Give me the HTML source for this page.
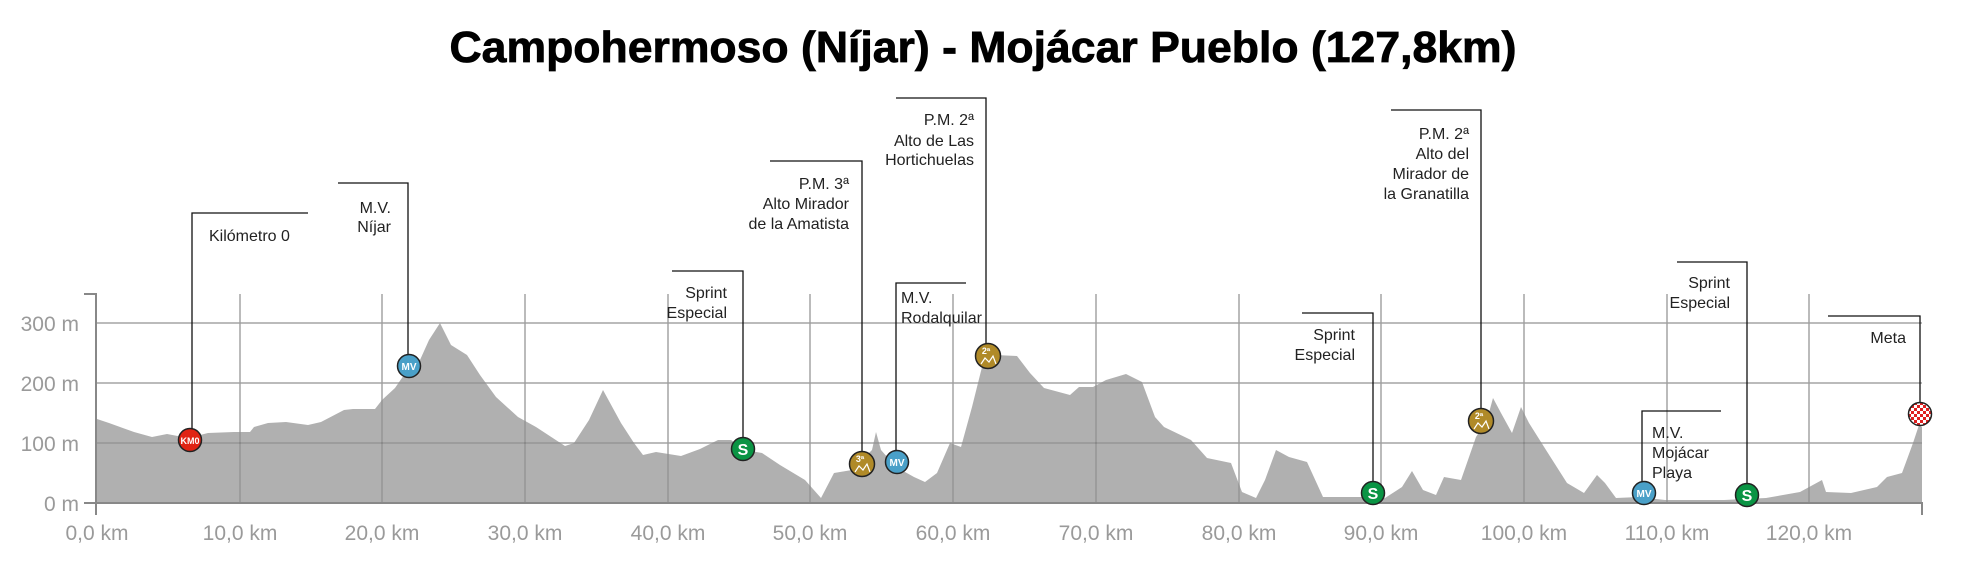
<!DOCTYPE html>
<html><head><meta charset="utf-8"><style>
html,body{margin:0;padding:0;background:#fff;}
svg{display:block;}
.a{font-family:"Liberation Sans",sans-serif;font-size:16px;fill:#222;}
.ax{font-family:"Liberation Sans",sans-serif;font-size:21px;fill:#9a9a9a;}
.mk{font-family:"Liberation Sans",sans-serif;font-weight:bold;fill:#fff;}
</style></head><body>
<svg width="1965" height="566" viewBox="0 0 1965 566" xmlns="http://www.w3.org/2000/svg">
<text x="983" y="62" text-anchor="middle" font-family="Liberation Sans, sans-serif" font-weight="bold" font-size="44" textLength="1067" lengthAdjust="spacingAndGlyphs" fill="#000" stroke="#000" stroke-width="0.8">Campohermoso (Níjar) - Mojácar Pueblo (127,8km)</text>

<g stroke="#d2d2d2" stroke-width="2">
<line x1="97" y1="323" x2="1922" y2="323"/>
<line x1="97" y1="383" x2="1922" y2="383"/>
<line x1="97" y1="443" x2="1922" y2="443"/>
<line x1="240" y1="294" x2="240" y2="503"/><line x1="382" y1="294" x2="382" y2="503"/><line x1="525" y1="294" x2="525" y2="503"/>
<line x1="668" y1="294" x2="668" y2="503"/><line x1="810" y1="294" x2="810" y2="503"/><line x1="953" y1="294" x2="953" y2="503"/>
<line x1="1096" y1="294" x2="1096" y2="503"/><line x1="1239" y1="294" x2="1239" y2="503"/><line x1="1381" y1="294" x2="1381" y2="503"/>
<line x1="1524" y1="294" x2="1524" y2="503"/><line x1="1667" y1="294" x2="1667" y2="503"/><line x1="1809" y1="294" x2="1809" y2="503"/>
</g>

<path fill="#b0b0b0" d="M97,503 L97,419 109,423 134,432 152,437 167,434 183,437 196,436 208,433 234,432 250,432 254,427 268,423 286,422 308,425 321,422 344,410 353,409 375,409 382,400 395,388 404,375 420,360 429,340 440,323 451,345 467,355 480,375 496,397 518,417 536,427 565,446 574,443 589,420 603,390 621,423 634,443 643,455 656,452 681,456 700,449 718,440 731,440 745,450 762,453 780,465 805,480 821,498 834,473 852,470 872,450 876,432 881,450 896,467 914,477 925,482 937,473 950,443 961,447 972,407 983,363 995,355 1017,356 1030,373 1044,388 1070,395 1079,387 1093,387 1106,380 1126,374 1142,382 1155,417 1164,427 1191,440 1207,458 1231,463 1242,492 1256,498 1265,480 1276,450 1289,457 1307,462 1323,497 1361,497 1385,498 1402,487 1412,471 1423,490 1436,495 1444,477 1461,480 1476,437 1487,420 1493,398 1501,413 1512,433 1521,407 1529,423 1546,450 1567,483 1584,493 1597,475 1605,483 1616,498 1639,497 1665,500 1724,500 1766,498 1800,492 1822,480 1826,492 1851,493 1877,487 1887,477 1902,473 1913,443 1919,425 1922,427 1922,503 Z"/>

<g stroke="rgba(0,0,0,0.11)" stroke-width="2">
<line x1="97" y1="323" x2="1922" y2="323"/><line x1="97" y1="383" x2="1922" y2="383"/><line x1="97" y1="443" x2="1922" y2="443"/>
<line x1="240" y1="294" x2="240" y2="503"/><line x1="382" y1="294" x2="382" y2="503"/><line x1="525" y1="294" x2="525" y2="503"/>
<line x1="668" y1="294" x2="668" y2="503"/><line x1="810" y1="294" x2="810" y2="503"/><line x1="953" y1="294" x2="953" y2="503"/>
<line x1="1096" y1="294" x2="1096" y2="503"/><line x1="1239" y1="294" x2="1239" y2="503"/><line x1="1381" y1="294" x2="1381" y2="503"/>
<line x1="1524" y1="294" x2="1524" y2="503"/><line x1="1667" y1="294" x2="1667" y2="503"/><line x1="1809" y1="294" x2="1809" y2="503"/>
</g>

<g stroke="#888" stroke-width="2" fill="none">
<polyline points="84,294 96,294 96,515"/>
<line x1="84" y1="503" x2="1923" y2="503"/>
<line x1="1922" y1="503" x2="1922" y2="515"/>
</g>
<g class="ax" text-anchor="end">
<text x="79" y="331">300 m</text><text x="79" y="391">200 m</text><text x="79" y="451">100 m</text><text x="79" y="511">0 m</text>
</g>
<g class="ax" text-anchor="middle">
<text x="97" y="540">0,0 km</text><text x="240" y="540">10,0 km</text><text x="382" y="540">20,0 km</text><text x="525" y="540">30,0 km</text>
<text x="668" y="540">40,0 km</text><text x="810" y="540">50,0 km</text><text x="953" y="540">60,0 km</text><text x="1096" y="540">70,0 km</text>
<text x="1239" y="540">80,0 km</text><text x="1381" y="540">90,0 km</text><text x="1524" y="540">100,0 km</text><text x="1667" y="540">110,0 km</text>
<text x="1809" y="540">120,0 km</text>
</g>

<g stroke="#111" stroke-width="1.3" fill="none">
<polyline points="308,213 192,213 192,440"/>
<polyline points="338,183 408,183 408,366"/>
<polyline points="672,271 743,271 743,449"/>
<polyline points="770,161 862,161 862,464"/>
<polyline points="896,98 986,98 986,356"/>
<polyline points="966,283 896,283 896,462"/>
<polyline points="1302,313 1373,313 1373,493"/>
<polyline points="1391,110 1481,110 1481,421"/>
<polyline points="1721,411 1642,411 1642,493"/>
<polyline points="1677,262 1747,262 1747,495"/>
<polyline points="1828,316 1920,316 1920,414"/>
</g>

<g class="a">
<text x="209" y="241">Kilómetro 0</text>
<g text-anchor="end"><text x="391" y="213">M.V.</text><text x="391" y="232">Níjar</text></g>
<g text-anchor="end"><text x="727" y="298">Sprint</text><text x="727" y="318">Especial</text></g>
<g text-anchor="end"><text x="849" y="189">P.M. 3ª</text><text x="849" y="209">Alto Mirador</text><text x="849" y="229">de la Amatista</text></g>
<g text-anchor="end"><text x="974" y="125">P.M. 2ª</text><text x="974" y="146">Alto de Las</text><text x="974" y="165">Hortichuelas</text></g>
<text x="901" y="303">M.V.</text><text x="901" y="323">Rodalquilar</text>
<g text-anchor="end"><text x="1355" y="340">Sprint</text><text x="1355" y="360">Especial</text></g>
<g text-anchor="end"><text x="1469" y="139">P.M. 2ª</text><text x="1469" y="159">Alto del</text><text x="1469" y="179">Mirador de</text><text x="1469" y="199">la Granatilla</text></g>
<text x="1652" y="438">M.V.</text><text x="1652" y="458">Mojácar</text><text x="1652" y="478">Playa</text>
<g text-anchor="end"><text x="1730" y="288">Sprint</text><text x="1730" y="308">Especial</text></g>
<text x="1906" y="343" text-anchor="end">Meta</text>
</g>

<defs>
<pattern id="chk" width="6" height="6" patternUnits="userSpaceOnUse">
<rect width="6" height="6" fill="#fff"/><rect width="3" height="3" fill="#e02020"/><rect x="3" y="3" width="3" height="3" fill="#e02020"/>
</pattern>
</defs>
<g stroke="#222" stroke-width="1.5">
<circle cx="190" cy="440" r="11.5" fill="#e02414"/>
<circle cx="409" cy="366" r="11.5" fill="#4aa0c8"/>
<circle cx="743" cy="449" r="11.5" fill="#0a9444"/>
<circle cx="862" cy="464" r="12.5" fill="#b08a28"/>
<circle cx="897" cy="462" r="11.5" fill="#4aa0c8"/>
<circle cx="988" cy="356" r="12.5" fill="#b08a28"/>
<circle cx="1373" cy="493" r="11.5" fill="#0a9444"/>
<circle cx="1481" cy="421" r="12.5" fill="#b08a28"/>
<circle cx="1644" cy="493" r="11.5" fill="#4aa0c8"/>
<circle cx="1747" cy="495" r="11.5" fill="#0a9444"/>
<circle cx="1920" cy="414" r="11.5" fill="url(#chk)"/>
</g>
<g class="mk" text-anchor="middle">
<text x="190" y="444" font-size="9">KM0</text>
<text x="409" y="370" font-size="10">MV</text>
<text x="743" y="455" font-size="16">S</text>
<text x="860" y="462" font-size="9">3ª</text>
<text x="897" y="466" font-size="10">MV</text>
<text x="986" y="354" font-size="9">2ª</text>
<text x="1373" y="499" font-size="16">S</text>
<text x="1479" y="419" font-size="9">2ª</text>
<text x="1644" y="497" font-size="10">MV</text>
<text x="1747" y="501" font-size="16">S</text>
</g>
<g stroke="#fff" stroke-width="1.2" fill="none">
<polyline points="855,472 859,466 863,470 867,464 870,472"/>
<polyline points="981,364 985,358 989,362 993,356 996,364"/>
<polyline points="1474,429 1478,423 1482,427 1486,421 1489,429"/>
</g>
</svg>
</body></html>
